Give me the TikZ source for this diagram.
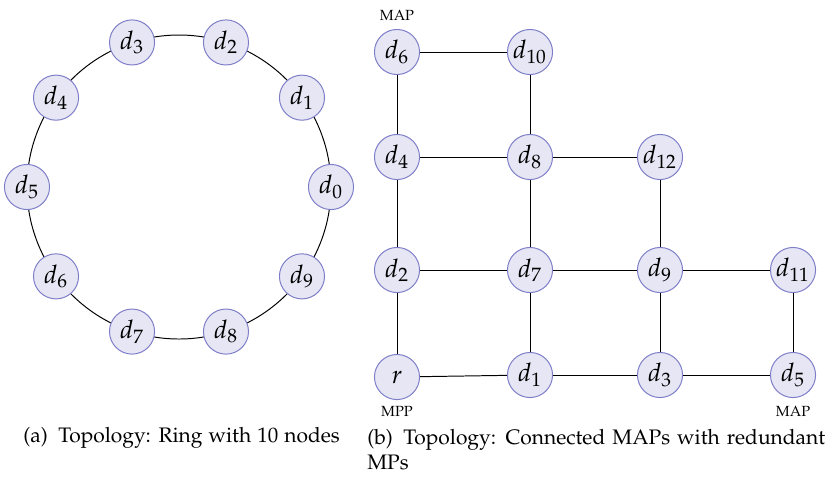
\documentclass[tikz,border=0pt]{standalone}
\usepackage[T1]{fontenc}
\usepackage[osf]{mathpazo}
\definecolor{nodefill}{RGB}{230,230,244}
\definecolor{nodeline}{RGB}{125,125,200}
\tikzset{
  dev/.style={circle, draw=nodeline, fill=nodefill, line width=0.5pt,
    minimum size=23pt, inner sep=0pt, font=\fontsize{13}{15}\selectfont},
  link/.style={draw=black, line width=0.5pt},
  role/.style={font=\fontsize{7.5}{9}\selectfont, inner sep=0pt},
  capt/.style={font=\fontfamily{pplx}\fontsize{10.7}{12.8}\selectfont, inner sep=0pt, anchor=west, align=left}
}
\begin{document}
\begin{tikzpicture}[x=0.51pt, y=-0.51pt]
\useasboundingbox (0,0) rectangle (830,478);

% ring of ten devices
\draw[link] (179,187) circle[radius=152];
\foreach \k in {0,...,9}{
  \node[dev] (r\k) at ({179+152*cos(36*\k)},{187-152*sin(36*\k)}) {$d_{\k}$};
}

% grid of connected MAPs
\node[dev] (d6)  at (397,52)  {$d_6$};
\node[dev] (d10) at (530,52)  {$d_{10}$};
\node[dev] (d4)  at (397,157) {$d_4$};
\node[dev] (d8)  at (530,157) {$d_8$};
\node[dev] (d12) at (660,157) {$d_{12}$};
\node[dev] (d2)  at (397,270) {$d_2$};
\node[dev] (d7)  at (530,270) {$d_7$};
\node[dev] (d9)  at (660,270) {$d_9$};
\node[dev] (d11) at (793,270) {$d_{11}$};
\node[dev] (rr)  at (397,377) {$r$};
\node[dev] (d1)  at (530,375) {$d_1$};
\node[dev] (d3)  at (660,375) {$d_3$};
\node[dev] (d5)  at (793,375) {$d_5$};

\foreach \a/\b in {d6/d10, d6/d4, d10/d8, d4/d8, d8/d12, d4/d2, d8/d7,
  d12/d9, d2/d7, d7/d9, d9/d11, d2/rr, d7/d1, d9/d3, d11/d5, rr/d1,
  d1/d3, d3/d5}
  \draw[link] (\a) -- (\b);

\node[role] (l6) at (397,15)  {MAP};
\node[role] (lr) at (397,411) {MPP};
\node[role] (l5) at (793,411) {MAP};

% captions
\node[capt] (ca) at (23,438) {(a)\hspace{0.5em}Topology: Ring with 10 nodes};
\node[capt, anchor=north west] (cb) at (367,429)
  {\makebox[233.5pt][s]{(b)\hspace{0.5em}Topology: Connected MAPs with redundant}\\MPs};
\end{tikzpicture}
\end{document}
